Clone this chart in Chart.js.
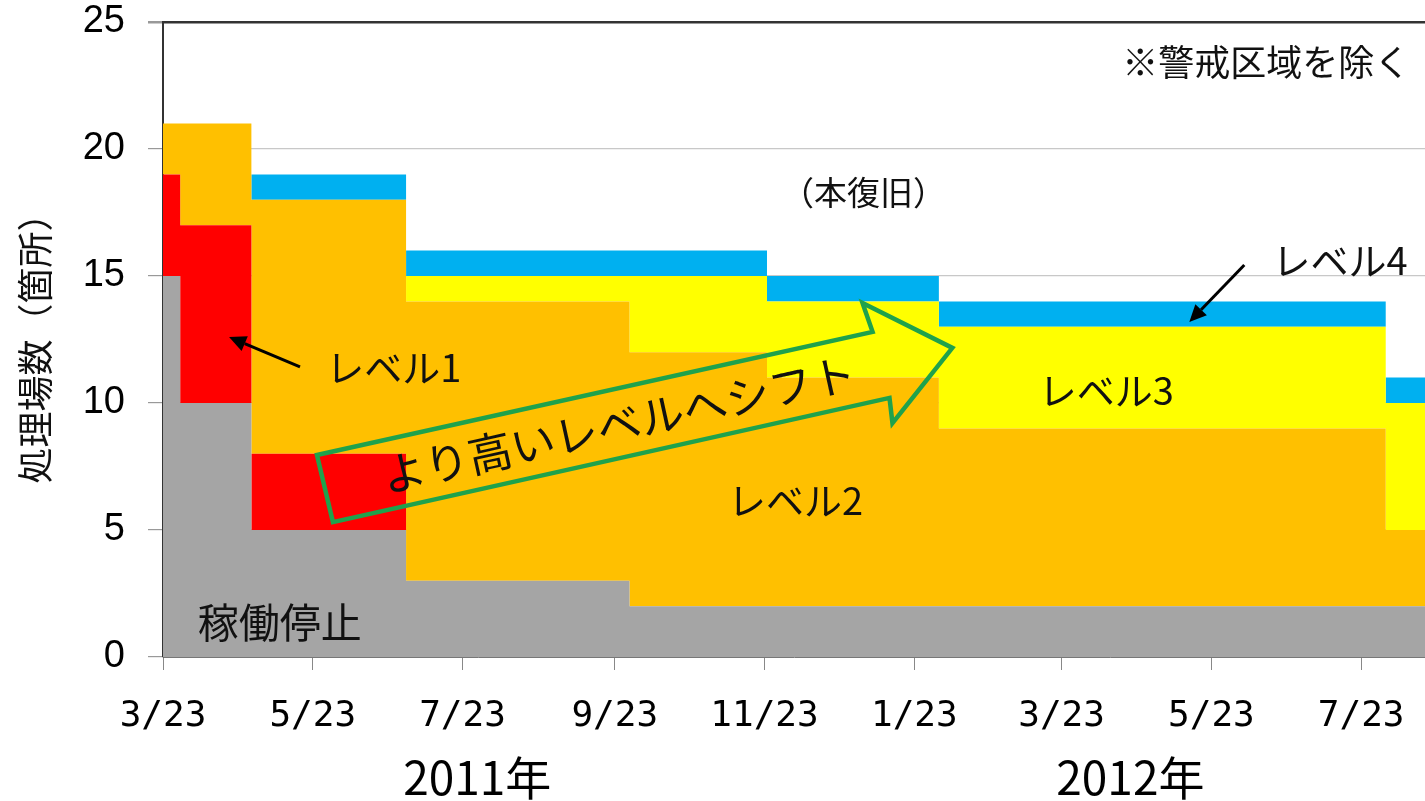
<!DOCTYPE html>
<html><head><meta charset="utf-8">
<script src="https://cdn.jsdelivr.net/npm/chart.js@4.4.1/dist/chart.umd.min.js"></script>
<style>html,body{margin:0;padding:0;background:#fff;} #wrap{width:1425px;height:801px;position:relative;}</style>
</head><body><div id="wrap"><canvas id="c"></canvas></div>
<script>
// ---- data (days since 2011-03-23) ----
const stepStartDays = [0, 7, 36, 99, 190, 246, 316, 498];
const endDay = 514;
const stopped = [15, 10, 5, 3, 2, 2, 2, 2];   // 稼働停止
const level1  = [4, 7, 3, 0, 0, 0, 0, 0];     // レベル1
const level2  = [2, 4, 10, 11, 10, 9, 7, 3];  // レベル2
const level3  = [0, 0, 0, 1, 3, 3, 4, 5];     // レベル3
const level4  = [0, 0, 1, 1, 1, 1, 1, 1];     // レベル4
const tickDays   = [0, 61, 122, 184, 245, 306, 366, 427, 488];
const tickLabels = ['3/23','5/23','7/23','9/23','11/23','1/23','3/23','5/23','7/23'];
const yearLabels = ['2011年', '2012年'];
const yearDays   = [128, 394];

function toPoints(vals) {
  const pts = stepStartDays.map((d, i) => ({x: d, y: vals[i]}));
  pts.push({x: endDay, y: vals[vals.length - 1]});
  return pts;
}

function ds(label, vals, color, fill) {
  return {label, data: toPoints(vals), backgroundColor: color, borderColor: color,
          borderWidth: 0, pointRadius: 0, stepped: 'before', fill, tension: 0};
}

const CJK = '"Noto Sans CJK JP", sans-serif';

const annot = {
  id: 'annot',
  afterDatasetsDraw(chart) {
    const {ctx, scales: {x, y}} = chart;
    const P = (d, v) => [x.getPixelForValue(d), y.getPixelForValue(v)];
    ctx.save();
    // green hollow arrow
    const poly = [[62.7,7.95],[289.0,12.80],[284.9,13.94],[321.5,12.17],[297.1,9.21],[295.9,10.20],[69.2,5.31]].map(p => P(p[0], p[1]));
    ctx.beginPath();
    poly.forEach((p, i) => i ? ctx.lineTo(p[0], p[1]) : ctx.moveTo(p[0], p[1]));
    ctx.closePath();
    ctx.lineWidth = 4.5; ctx.strokeStyle = '#1FA24C'; ctx.lineJoin = 'miter';
    ctx.stroke();
    const ang = Math.atan2(poly[1][1] - poly[0][1], poly[1][0] - poly[0][0]);
    ctx.fillStyle = '#111';
    ctx.textAlign = 'center'; ctx.textBaseline = 'middle';
    const [sx, sy] = P(185.6, 9.17);
    ctx.save(); ctx.translate(sx, sy); ctx.rotate(ang);
    ctx.font = '44px ' + CJK; ctx.fillText('より高いレベルへシフト', 0, 0);
    ctx.restore();
    // labels
    const texts = [
      ['※警戒区域を除く', 449.3, 23.43, 36],
      ['（本復旧）', 285.3, 18.27, 33],
      ['レベル1', 94.0, 11.38, 38],
      ['レベル2', 257.6, 6.14, 38],
      ['レベル3', 384.2, 10.47, 38],
      ['レベル4', 479.4, 15.59, 38],
      ['稼働停止', 47.6, 1.38, 41]
    ];
    texts.forEach(t => {
      const [tx, ty] = P(t[1], t[2]);
      ctx.font = t[3] + 'px ' + CJK;
      ctx.fillText(t[0], tx, ty);
    });
    // black pointer arrows
    function arrow(a, b) {
      const [x1, y1] = P(a[0], a[1]); const [x2, y2] = P(b[0], b[1]);
      const an = Math.atan2(y2 - y1, x2 - x1);
      const hl = 17, hw = 8;
      const bx = x2 - hl * Math.cos(an), by = y2 - hl * Math.sin(an);
      ctx.beginPath(); ctx.moveTo(x1, y1); ctx.lineTo(bx, by);
      ctx.strokeStyle = '#000'; ctx.lineWidth = 3; ctx.stroke();
      ctx.beginPath(); ctx.moveTo(x2, y2);
      ctx.lineTo(bx + hw * Math.sin(an), by - hw * Math.cos(an));
      ctx.lineTo(bx - hw * Math.sin(an), by + hw * Math.cos(an));
      ctx.closePath(); ctx.fillStyle = '#000'; ctx.fill();
    }
    arrow([55.8, 11.42], [26.9, 12.60]);
    arrow([440.4, 15.43], [418.0, 13.19]);
    ctx.restore();
  },
  afterDraw(chart) {
    const {ctx, scales: {x}} = chart;
    ctx.save();
    ctx.fillStyle = '#000'; ctx.textAlign = 'center'; ctx.textBaseline = 'middle';
    ctx.font = '46px ' + CJK;
    yearLabels.forEach((t, i) => ctx.fillText(t, x.getPixelForValue(yearDays[i]), x.bottom - 23));
    ctx.restore();
  }
};

new Chart(document.getElementById('c'), {
  type: 'line',
  data: {
    datasets: [
      ds('稼働停止', stopped, '#A5A5A5', 'origin'),
      ds('レベル1', level1, '#FF0000', '-1'),
      ds('レベル2', level2, '#FFC000', '-1'),
      ds('レベル3', level3, '#FFFF00', '-1'),
      ds('レベル4', level4, '#00B0F0', '-1')
    ]
  },
  options: {
    responsive: true, maintainAspectRatio: false, animation: false,
    layout: {padding: {top: 22, right: 0, left: 0, bottom: 0}},
    plugins: {legend: {display: false}, tooltip: {enabled: false}},
    scales: {
      x: {
        type: 'linear', min: 0, max: endDay,
        afterBuildTicks: s => { s.ticks = tickDays.map(v => ({value: v})); },
        afterFit: s => { s.height = 144; s.paddingRight = 0; s.paddingLeft = 0; },
        ticks: {
          autoSkip: false, maxRotation: 0,
          callback: (v, i) => tickLabels[i],
          font: {family: '"DejaVu Sans Mono", monospace', size: 36},
          color: '#000', padding: 25
        },
        grid: {drawOnChartArea: false, drawTicks: true, tickLength: 13, color: '#888'},
        border: {color: '#777', width: 1}
      },
      y: {
        stacked: true, min: 0, max: 25,
        afterFit: s => { s.width = 163; s.paddingTop = 0; s.paddingBottom = 0; },
        ticks: {stepSize: 5, font: {family: '"Liberation Sans", Arial, sans-serif', size: 38}, color: '#000', padding: 23},
        grid: {
          color: c => (c.tick && c.tick.value === 25) ? '#333' : '#C8C8C8',
          lineWidth: c => (c.tick && c.tick.value === 25) ? 2.5 : 1.2,
          tickColor: '#999', tickLength: 15
        },
        border: {color: '#333', width: 2},
        title: {display: true, text: '処理場数（箇所）', font: {family: CJK, size: 36}, color: '#111', padding: {top: 14, bottom: 0}}
      }
    }
  },
  plugins: [annot]
});
</script>
</body></html>
